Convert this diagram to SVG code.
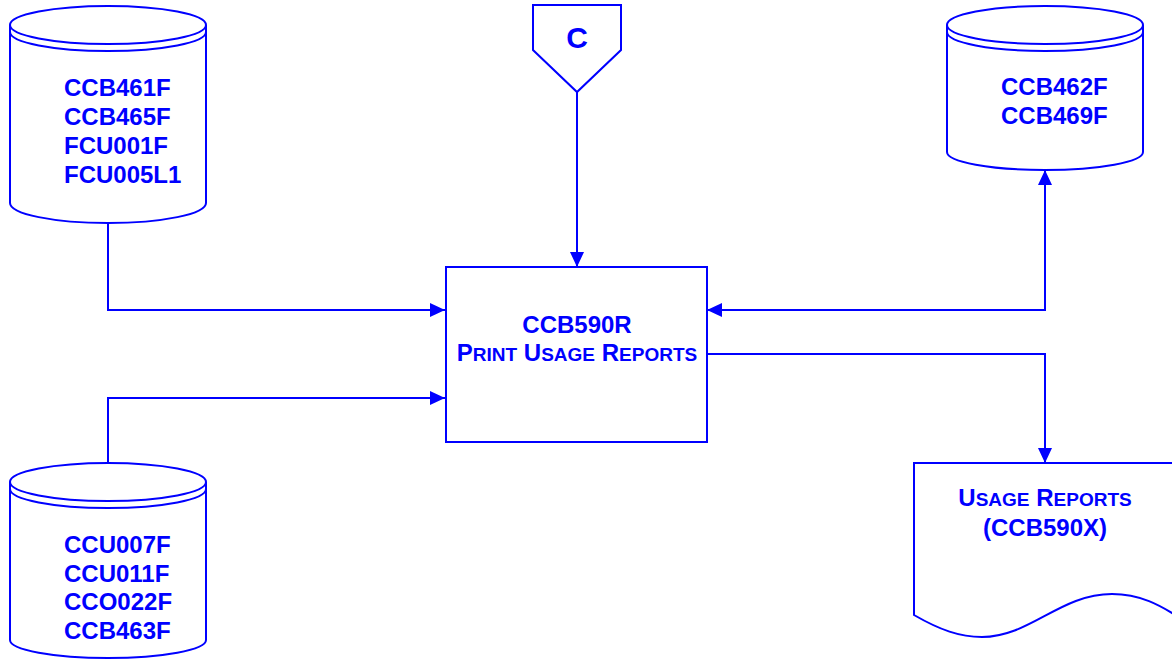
<svg xmlns="http://www.w3.org/2000/svg" width="1172" height="659" viewBox="0 0 1172 659">
<style>
.s{fill:#fff;stroke:#0000ff;stroke-width:2}
.n{fill:none;stroke:#0000ff;stroke-width:2}
.t{font-family:"Liberation Sans",Arial,sans-serif;font-weight:bold;font-size:24px;fill:#0000ff}
.m{text-anchor:middle}
.sc{font-size:19px}
</style>
<defs>
<marker id="arr" markerUnits="userSpaceOnUse" markerWidth="16" markerHeight="16" refX="15" refY="8" orient="auto-start-reverse">
<path d="M0,1 L15,8 L0,15 z" fill="#0000ff"/>
</marker>
</defs>
<rect width="1172" height="659" fill="#fff"/>
<g id="connectors">
<path class="n" d="M108,223 V310 H445" marker-end="url(#arr)"/>
<path class="n" d="M108,463 V398 H445" marker-end="url(#arr)"/>
<path class="n" d="M577,92 V267" marker-end="url(#arr)"/>
<path class="n" d="M707,310 H1045 V170" marker-start="url(#arr)" marker-end="url(#arr)"/>
<path class="n" d="M707,354 H1045 V463" marker-end="url(#arr)"/>
</g>
<g id="db1">
<path class="s" d="M10,25 V203 A98,20 0 0 0 206,203 V25"/>
<ellipse class="s" cx="108" cy="25" rx="98" ry="19"/>
<path class="n" d="M10,32 A98,19 0 0 0 206,32"/>
<text class="t" x="64" y="96">CCB461F</text>
<text class="t" x="64" y="125">CCB465F</text>
<text class="t" x="64" y="154">FCU001F</text>
<text class="t" x="64" y="183">FCU005L1</text>
</g>
<g id="connC">
<path class="s" d="M533,5 H621 V50 L577,92 L533,50 Z"/>
<text class="t m" x="577" y="48" style="font-size:30px">C</text>
</g>
<g id="db2">
<path class="s" d="M947,25 V152 A98,18 0 0 0 1143,152 V25"/>
<ellipse class="s" cx="1045" cy="25" rx="98" ry="19"/>
<path class="n" d="M947,32 A98,19 0 0 0 1143,32"/>
<text class="t" x="1001" y="95">CCB462F</text>
<text class="t" x="1001" y="124">CCB469F</text>
</g>
<g id="proc">
<rect class="s" x="446" y="267" width="261" height="175"/>
<text class="t m" x="577" y="333">CCB590R</text>
<text class="t m" x="577" y="361">P<tspan class="sc">RINT</tspan> U<tspan class="sc">SAGE</tspan> R<tspan class="sc">EPORTS</tspan></text>
</g>
<g id="db3">
<path class="s" d="M10,482 V640 A98,18 0 0 0 206,640 V482"/>
<ellipse class="s" cx="108" cy="482" rx="98" ry="19"/>
<path class="n" d="M10,489 A98,19 0 0 0 206,489"/>
<text class="t" x="64" y="553">CCU007F</text>
<text class="t" x="64" y="582">CCU011F</text>
<text class="t" x="64" y="610">CCO022F</text>
<text class="t" x="64" y="639">CCB463F</text>
</g>
<g id="doc">
<path class="s" d="M914,615 V463 H1180 V618 C1160,605 1140,594 1112,594 C1060,594 1030,637 982,637 C960,637 940,630 914,615 Z"/>
<text class="t m" x="1045" y="506">U<tspan class="sc">SAGE</tspan> R<tspan class="sc">EPORTS</tspan></text>
<text class="t m" x="1045" y="536">(CCB590X)</text>
</g>
</svg>
